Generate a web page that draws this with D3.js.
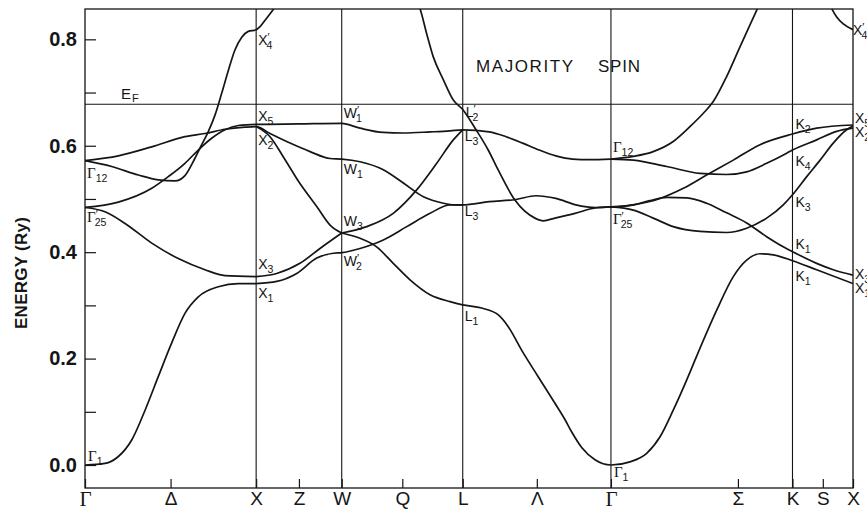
<!DOCTYPE html>
<html>
<head>
<meta charset="utf-8">
<script src="https://cdn.jsdelivr.net/npm/d3@7"></script>
<style>
  html, body { margin: 0; padding: 0; background: #fff; }
  svg { display: block; }
  text { fill: #151515; }
</style>
</head>
<body>
<svg id="chart" width="867" height="509"></svg>
<script>
// High-symmetry points along the path Γ–X–W–L–Γ–K–X (k in units of 2π/a)
const symLabels = ["Γ", "X", "W", "L", "Γ", "K", "X"];
const symK = [0, 1, 1.5, 2.2071, 3.0731, 4.1338, 4.4874];
// Intermediate direction labels
const midLabels = ["Δ", "Z", "Q", "Λ", "Σ", "S"];
const midK = [0.5, 1.25, 1.854, 2.640, 3.815, 4.311];
// Energy ticks (Ry)
const energyTicks = [0, 0.1, 0.2, 0.3, 0.4, 0.5, 0.6, 0.7, 0.8];
const energyLabelled = [0, 0.2, 0.4, 0.6, 0.8];
const fermiEnergy = 0.678;

// Energy bands, [k, E(Ry)]
const band01 = [[0,0.000],[0.117,0.003],[0.195,0.016],[0.273,0.047],[0.351,0.103],[0.428,0.166],[0.506,0.229],[0.584,0.285],[0.662,0.316],[0.779,0.335],[0.896,0.341],[1,0.341]];
const band02 = [[1,0.341],[1.120,0.345],[1.237,0.360],[1.354,0.389],[1.451,0.398],[1.5,0.399],[1.607,0.407],[1.743,0.423],[1.880,0.448],[2.016,0.473],[2.133,0.489],[2.207,0.489]];
const band03 = [[0,0.484],[0.117,0.476],[0.234,0.454],[0.390,0.417],[0.545,0.388],[0.701,0.367],[0.818,0.356],[1,0.354]];
const band04 = [[1,0.354],[1.120,0.360],[1.256,0.379],[1.373,0.407],[1.5,0.436]];
const band05 = [[1.5,0.436],[1.646,0.448],[1.801,0.473],[1.938,0.517],[2.055,0.567],[2.152,0.611],[2.207,0.630]];
const band06 = [[1,0.636],[1.081,0.617],[1.159,0.579],[1.256,0.529],[1.354,0.486],[1.432,0.451],[1.5,0.436]];
const band07 = [[1.5,0.436],[1.607,0.426],[1.704,0.410],[1.801,0.379],[1.899,0.348],[2.016,0.320],[2.133,0.307],[2.207,0.301],[2.318,0.295],[2.415,0.282],[2.473,0.260],[2.551,0.216],[2.648,0.166],[2.746,0.116],[2.805,0.085],[2.844,0.062],[2.902,0.033],[2.980,0.010],[3.073,0.000],[3.184,0.006],[3.282,0.022],[3.360,0.053],[3.437,0.103],[3.516,0.160],[3.564,0.197],[3.691,0.291],[3.788,0.354],[3.866,0.385],[3.944,0.397],[4.022,0.395],[4.134,0.384],[4.275,0.367],[4.487,0.341]];
const band08 = [[0,0.484],[0.195,0.494],[0.390,0.520],[0.487,0.542],[0.584,0.567],[0.662,0.592],[0.740,0.614],[0.818,0.630],[0.896,0.638],[1,0.640],[1.25,0.641],[1.5,0.642],[1.607,0.633],[1.743,0.625],[1.860,0.624],[2.016,0.626],[2.133,0.628],[2.207,0.630],[2.362,0.626],[2.460,0.617],[2.557,0.605],[2.654,0.592],[2.751,0.581],[2.849,0.575],[2.946,0.574],[3.073,0.575]];
const band09 = [[0,0.572],[0.195,0.581],[0.390,0.598],[0.584,0.617],[0.701,0.623],[0.818,0.631],[0.935,0.635],[1,0.636],[1.081,0.623],[1.198,0.605],[1.315,0.589],[1.432,0.576],[1.5,0.575],[1.607,0.570],[1.743,0.555],[1.860,0.530],[1.977,0.504],[2.094,0.492],[2.162,0.489],[2.207,0.489],[2.362,0.495],[2.518,0.499],[2.635,0.506],[2.751,0.501],[2.868,0.489],[2.985,0.484],[3.073,0.485]];
const band10 = [[0,0.572],[0.156,0.561],[0.312,0.545],[0.428,0.536],[0.526,0.534],[0.584,0.544],[0.643,0.577],[0.682,0.602],[0.721,0.627],[0.760,0.658],[0.799,0.699],[0.838,0.742],[0.876,0.780],[0.916,0.804],[0.954,0.815],[1,0.818],[1.023,0.824],[1.062,0.840],[1.100,0.856],[1.140,0.875]];
const band11 = [[1.928,0.878],[1.957,0.858],[1.996,0.811],[2.035,0.767],[2.094,0.724],[2.152,0.686],[2.207,0.668],[2.279,0.633],[2.356,0.592],[2.415,0.554],[2.512,0.498],[2.629,0.464],[2.678,0.459],[2.746,0.464],[2.863,0.473],[2.980,0.483],[3.073,0.485]];
const band12 = [[3.073,0.485],[3.204,0.489],[3.301,0.497],[3.399,0.503],[3.516,0.502],[3.632,0.492],[3.749,0.474],[3.866,0.455],[3.983,0.429],[4.080,0.410],[4.134,0.401],[4.275,0.379],[4.372,0.367],[4.487,0.357]];
const band13 = [[3.073,0.485],[3.204,0.479],[3.320,0.464],[3.437,0.448],[3.593,0.439],[3.749,0.437],[3.866,0.445],[3.983,0.464],[4.080,0.489],[4.134,0.508],[4.217,0.542],[4.295,0.573],[4.372,0.605],[4.450,0.630],[4.487,0.637]];
const band14 = [[3.073,0.485],[3.204,0.489],[3.360,0.501],[3.496,0.520],[3.632,0.545],[3.788,0.573],[3.944,0.602],[4.134,0.622],[4.275,0.633],[4.487,0.639]];
const band15 = [[3.073,0.575],[3.204,0.573],[3.399,0.561],[3.593,0.548],[3.749,0.546],[3.866,0.551],[3.983,0.567],[4.100,0.586],[4.134,0.592],[4.275,0.611],[4.392,0.627],[4.487,0.633]];
const band16 = [[3.073,0.575],[3.204,0.580],[3.320,0.589],[3.437,0.608],[3.535,0.636],[3.613,0.661],[3.671,0.683],[3.749,0.730],[3.827,0.786],[3.925,0.855],[3.960,0.880]];
const band17 = [[4.330,0.885],[4.363,0.858],[4.392,0.842],[4.431,0.829],[4.487,0.818]];

const bands = [band01, band02, band03, band04, band05, band06, band07, band08, band09,
               band10, band11, band12, band13, band14, band15, band16, band17];

// Symmetry-point labels: [letter, subscript, primed, k, E]
const pointLabels = [
  ["Γ","1",false,0,0.000], ["Γ","12",false,0,0.572], ["Γ","25",true,0,0.484],
  ["X","4",true,1,0.818], ["X","5",false,1,0.640], ["X","2",false,1,0.636],
  ["X","3",false,1,0.354], ["X","1",false,1,0.341],
  ["W","1",true,1.5,0.642], ["W","1",false,1.5,0.575], ["W","3",false,1.5,0.436], ["W","2",true,1.5,0.399],
  ["L","2",true,2.2071,0.668], ["L","3",false,2.2071,0.630], ["L","3",false,2.2071,0.489], ["L","1",false,2.2071,0.301],
  ["Γ","1",false,3.0731,0.000], ["Γ","12",false,3.0731,0.575], ["Γ","25",true,3.0731,0.485],
  ["K","2",false,4.1338,0.622], ["K","4",false,4.1338,0.592], ["K","3",false,4.1338,0.508],
  ["K","1",false,4.1338,0.401], ["K","1",false,4.1338,0.384],
  ["X","4",true,4.4874,0.818], ["X","5",false,4.4874,0.639], ["X","2",false,4.4874,0.633],
  ["X","3",false,4.4874,0.357], ["X","1",false,4.4874,0.341]
];
// Placement of each label relative to its level [dx, dy] in px
const labelShift = [
  [3,-4],[2,17],[2,15],
  [2,15],[2,-3],[2,18],[2,-8],[2,14],
  [2,-5],[2,15],[2,-7],[2,13],
  [3,7],[2,11],[2,11],[2,16],
  [3,12],[2,-7],[2,17],
  [3,-5],[3,16],[3,12],[3,-3],[3,20],
  [0,5],[2,-2],[2,9],[2,4],[2,9]
];

const plot = { left: 85, right: 853, top: 9, bottom: 488 };
const svg = d3.select("#chart");

const x = d3.scaleLinear().domain([0, 4.4874]).range([plot.left, plot.right]);
const y = d3.scaleLinear().domain([-0.0432, 0.857]).range([plot.bottom, plot.top]);

const ink = "#151515";
const sans = "'Liberation Sans', Arial, sans-serif";
const serif = "'Liberation Serif', 'DejaVu Serif', serif";

svg.append("defs").append("clipPath").attr("id", "plotClip")
  .append("rect")
  .attr("x", plot.left).attr("y", plot.top)
  .attr("width", plot.right - plot.left).attr("height", plot.bottom - plot.top);

// Vertical lines at interior symmetry points
svg.append("g").selectAll("line")
  .data(symK.slice(1, -1))
  .join("line")
  .attr("x1", d => x(d)).attr("x2", d => x(d))
  .attr("y1", plot.top).attr("y2", plot.bottom)
  .attr("stroke", ink).attr("stroke-width", 1.1);

// Fermi level
svg.append("line")
  .attr("x1", plot.left).attr("x2", plot.right)
  .attr("y1", y(fermiEnergy)).attr("y2", y(fermiEnergy))
  .attr("stroke", ink).attr("stroke-width", 1.1);

// Frame
svg.append("rect")
  .attr("x", plot.left).attr("y", plot.top)
  .attr("width", plot.right - plot.left).attr("height", plot.bottom - plot.top)
  .attr("fill", "none").attr("stroke", ink).attr("stroke-width", 1.3);

// Energy axis (inward ticks)
const yAxis = d3.axisLeft(y)
  .tickValues(energyTicks)
  .tickSize(-11)
  .tickPadding(8)
  .tickFormat(d => energyLabelled.some(v => Math.abs(v - d) < 1e-9) ? d3.format(".1f")(d) : "");
const gy = svg.append("g").attr("transform", `translate(${plot.left},0)`).call(yAxis);
gy.select(".domain").remove();
gy.selectAll(".tick line").attr("stroke", ink).attr("stroke-width", 1.2);
gy.selectAll(".tick text")
  .attr("font-family", sans).attr("font-weight", "bold")
  .attr("font-size", 20).attr("fill", ink);

// k-path axis: direction ticks inward, all point labels below
const allK = symK.concat(midK);
const allLabels = symLabels.concat(midLabels);
const xAxis = d3.axisBottom(x)
  .tickValues(allK)
  .tickSize(-9)
  .tickPadding(3)
  .tickFormat((d, i) => allLabels[i]);
const gx = svg.append("g").attr("transform", `translate(0,${plot.bottom})`).call(xAxis);
gx.select(".domain").remove();
gx.selectAll(".tick line").attr("stroke", ink).attr("stroke-width", 1.2);
gx.selectAll(".tick text")
  .attr("font-size", 19).attr("fill", ink)
  .each(function(d, i) {
    const t = d3.select(this);
    if (allLabels[i] === "Γ") t.attr("font-family", serif).attr("font-size", 21);
    else t.attr("font-family", sans);
  });

// Energy axis title
svg.append("text")
  .attr("transform", "translate(27,273) rotate(-90)")
  .attr("text-anchor", "middle")
  .attr("font-family", sans).attr("font-weight", "bold")
  .attr("font-size", 17)
  .attr("textLength", 112).attr("lengthAdjust", "spacing")
  .text("ENERGY (Ry)");

// Bands
const line = d3.line()
  .x(d => x(d[0])).y(d => y(d[1]))
  .curve(d3.curveMonotoneX);
svg.append("g").attr("clip-path", "url(#plotClip)")
  .selectAll("path")
  .data(bands)
  .join("path")
  .attr("d", line)
  .attr("fill", "none")
  .attr("stroke", ink)
  .attr("stroke-width", 1.7)
  .attr("stroke-linejoin", "round");

// Title
svg.append("text").attr("x", 476).attr("y", 72)
  .attr("font-family", sans).attr("font-size", 17)
  .attr("textLength", 97).attr("lengthAdjust", "spacing")
  .text("MAJORITY");
svg.append("text").attr("x", 598).attr("y", 72)
  .attr("font-family", sans).attr("font-size", 17)
  .attr("textLength", 42).attr("lengthAdjust", "spacing")
  .text("SPIN");

// E_F label
const ef = svg.append("text").attr("x", x(0.21)).attr("y", y(fermiEnergy) - 5)
  .attr("font-family", sans).attr("font-size", 15);
ef.append("tspan").text("E");
ef.append("tspan").attr("font-size", 11).attr("dy", 3).attr("dx", 1).text("F");

// Symmetry-point labels
const gl = svg.append("g").attr("font-family", sans);
pointLabels.forEach((p, i) => {
  const [main, sub, primed, k, e] = p;
  const [dx, dy] = labelShift[i];
  const t = gl.append("text")
    .attr("x", x(k) + dx).attr("y", y(e) + dy)
    .attr("font-size", 14);
  const m = t.append("tspan").text(main);
  if (main === "Γ") m.attr("font-family", serif).attr("font-size", 15);
  if (primed) {
    t.append("tspan").attr("font-size", 11).attr("dy", -4).text("′");
    t.append("tspan").attr("font-size", 10.5).attr("dx", -3).attr("dy", 8).text(sub);
  } else {
    t.append("tspan").attr("font-size", 10.5).attr("dy", 4).text(sub);
  }
});
</script>
</body>
</html>
